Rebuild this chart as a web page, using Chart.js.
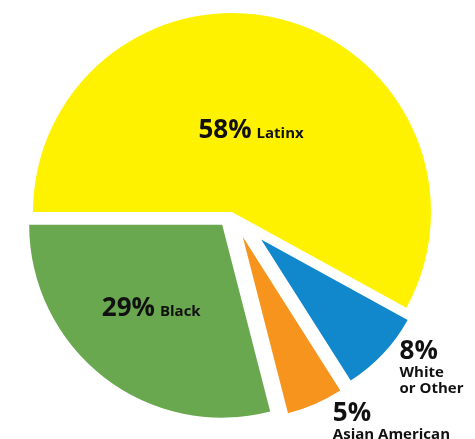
<!DOCTYPE html>
<html>
<head>
<meta charset="utf-8">
<script src="https://cdn.jsdelivr.net/npm/chart.js@4.4.1/dist/chart.umd.min.js"></script>
<style>
  html, body { margin: 0; padding: 0; background: #fff; }
  canvas { display: block; }
</style>
</head>
<body>
<canvas id="pieChart" width="475" height="439"></canvas>
<script>
const categories = ['Latinx', 'White or Other', 'Asian American', 'Black'];
const shares = [58, 8, 5, 29];
const nameLines = [['Latinx'], ['White', 'or Other'], ['Asian American'], ['Black']];
const sliceColors = ['#FFF200', '#1188CC', '#F7941D', '#6AA84F'];

// how far each slice is pulled out (px) and how much it shrinks
const explode = [0, 40, 27, 16];
const radiusScale = [1, 0.84, 0.915, 0.97];

// where labels go: fraction along the slice's arc, fraction of its radius
const labelPlace = [
  { along: 0.5, out: 0.385, inline: true },
  { along: 0.42, out: 1.095, inline: false },
  { along: 0.35, out: 1.125, inline: false },
  { along: 0.5, out: 0.6, inline: true }
];

const bigFont = 'bold 26px "Open Sans"';
const smallFont = 'bold 15px "Open Sans"';

const explodePlugin = {
  id: 'explode',
  afterDatasetUpdate(chart, args) {
    args.meta.data.forEach((arc, i) => {
      const mid = (arc.startAngle + arc.endAngle) / 2;
      arc.x += Math.cos(mid) * explode[i];
      arc.y += Math.sin(mid) * explode[i];
      arc.outerRadius *= radiusScale[i];
    });
  }
};

const labelPlugin = {
  id: 'sliceLabels',
  afterDatasetsDraw(chart) {
    const ctx = chart.ctx;
    const arcs = chart.getDatasetMeta(0).data;
    ctx.save();
    ctx.fillStyle = '#111';
    ctx.textBaseline = 'alphabetic';
    ctx.textAlign = 'left';
    arcs.forEach((arc, i) => {
      const p = labelPlace[i];
      const ang = arc.startAngle + (arc.endAngle - arc.startAngle) * p.along;
      const r = arc.outerRadius * p.out;
      const x = arc.x + Math.cos(ang) * r;
      const y = arc.y + Math.sin(ang) * r;
      const pct = shares[i] + '%';
      ctx.font = bigFont;
      const pw = ctx.measureText(pct).width;
      if (p.inline) {
        ctx.font = smallFont;
        const nw = ctx.measureText(nameLines[i][0]).width;
        const left = x - (pw + 5 + nw) / 2;
        ctx.font = bigFont;
        ctx.fillText(pct, left, y);
        ctx.font = smallFont;
        ctx.fillText(nameLines[i][0], left + pw + 5, y);
      } else {
        ctx.fillText(pct, x, y);
        ctx.font = smallFont;
        nameLines[i].forEach((line, j) => {
          ctx.fillText(line, x, y + 18 + j * 16);
        });
      }
    });
    ctx.restore();
  }
};

new Chart(document.getElementById('pieChart'), {
  type: 'pie',
  data: {
    labels: categories,
    datasets: [{
      data: shares,
      backgroundColor: sliceColors,
      borderWidth: 0
    }]
  },
  options: {
    responsive: false,
    animation: false,
    events: [],
    rotation: -90,
    radius: 199,
    layout: { padding: { right: 11, bottom: 15 } },
    plugins: {
      legend: { display: false },
      tooltip: { enabled: false }
    }
  },
  plugins: [explodePlugin, labelPlugin]
});
</script>
</body>
</html>
